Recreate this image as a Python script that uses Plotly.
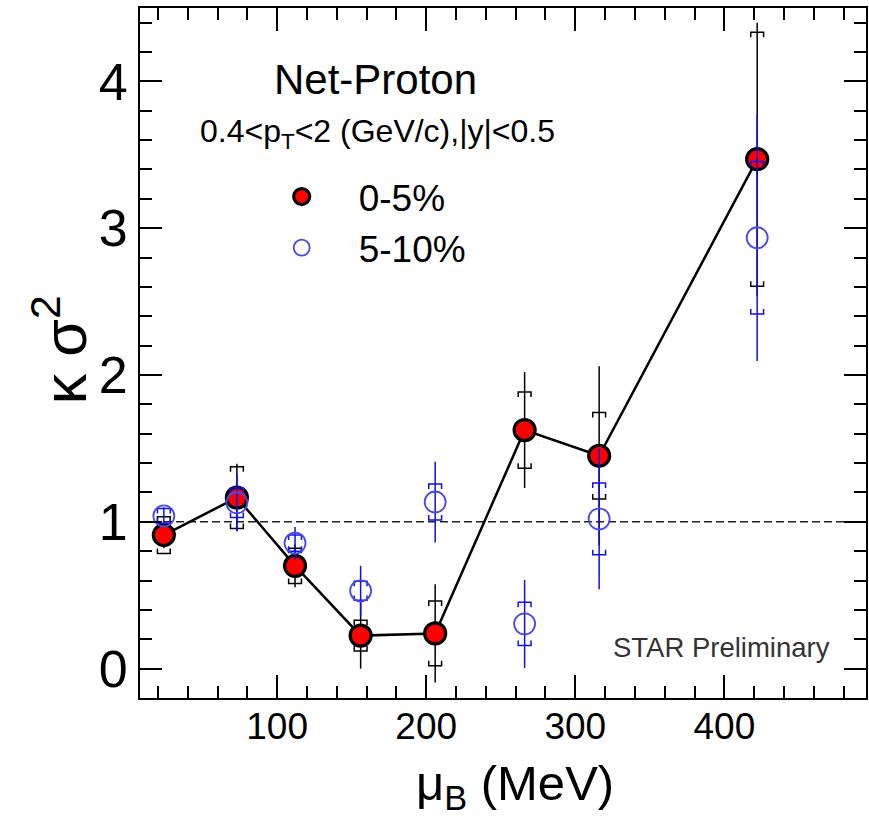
import plotly.graph_objects as go

# ---- data ----
mu_b = [24, 73, 112, 156, 206, 266, 316, 422]          # MeV

k_0_5 = [0.91, 1.165, 0.70, 0.225, 0.24, 1.625, 1.45, 3.47]
stat_0_5 = [0.09, 0.23, 0.145, 0.225, 0.335, 0.395, 0.61, 0.93]
sys_0_5 = [0.125, 0.21, 0.12, 0.105, 0.22, 0.26, 0.295, 0.865]

k_5_10 = [1.04, 1.13, 0.855, 0.53, 1.135, 0.305, 1.02, 2.935]
stat_5_10 = [0.06, 0.195, 0.11, 0.17, 0.275, 0.30, 0.48, 0.84]
sys_5_10 = [0.05, 0.10, 0.055, 0.065, 0.123, 0.148, 0.245, 0.52]

x_tick_vals = [100, 200, 300, 400]
y_tick_vals = [0, 1, 2, 3, 4]
poisson_baseline = 1

FONT = "Liberation Sans, Arial, sans-serif"
BLUE_LINE = "#1010e8"
BLUE_MARK = "#4a4ae6"

# systematic-error brackets (ROOT "[]" style), built from the data
BR_HALF_W = 4.3     # MeV
BR_HOOK = 0.034     # kappa sigma^2 units


def brackets(xs, ys, ss):
    bx, by = [], []
    for x, y, s in zip(xs, ys, ss):
        top, bot = y + s, y - s
        bx += [x - BR_HALF_W, x - BR_HALF_W, x + BR_HALF_W, x + BR_HALF_W, None]
        by += [top - BR_HOOK, top, top, top - BR_HOOK, None]
        bx += [x - BR_HALF_W, x - BR_HALF_W, x + BR_HALF_W, x + BR_HALF_W, None]
        by += [bot + BR_HOOK, bot, bot, bot + BR_HOOK, None]
    return bx, by


fig = go.Figure()

# connecting line for 0-5%
fig.add_trace(go.Scatter(x=mu_b, y=k_0_5, mode="lines",
                         line=dict(color="black", width=2.5),
                         showlegend=False, hoverinfo="skip"))

# 0-5% systematic brackets
bx, by = brackets(mu_b, k_0_5, sys_0_5)
fig.add_trace(go.Scatter(x=bx, y=by, mode="lines",
                         line=dict(color="black", width=1.5),
                         showlegend=False, hoverinfo="skip"))

# 0-5% points with statistical errors
fig.add_trace(go.Scatter(
    x=mu_b, y=k_0_5, mode="markers", name="0-5%", legendgroup="a",
    marker=dict(symbol="circle", size=21, color="#ff0000",
                line=dict(color="black", width=3.2)),
    error_y=dict(type="data", array=stat_0_5, color="black",
                 thickness=1.5, width=0)))

# 5-10% systematic brackets
bx, by = brackets(mu_b, k_5_10, sys_5_10)
fig.add_trace(go.Scatter(x=bx, y=by, mode="lines",
                         line=dict(color=BLUE_LINE, width=1.5),
                         showlegend=False, hoverinfo="skip"))

# 5-10% points with statistical errors
fig.add_trace(go.Scatter(
    x=mu_b, y=k_5_10, mode="markers", name="5-10%", legendgroup="b",
    marker=dict(symbol="circle-open", size=21, color=BLUE_MARK,
                line=dict(width=1.8)),
    error_y=dict(type="data", array=stat_5_10, color=BLUE_LINE,
                 thickness=1.5, width=0)))

# dashed reference line at 1
fig.add_shape(type="line", xref="paper", x0=0, x1=1, yref="y",
              y0=poisson_baseline, y1=poisson_baseline,
              line=dict(color="#222222", width=1.5, dash="8px,4px"),
              layer="below")

axis_common = dict(showgrid=False, zeroline=False, showline=True,
                   linecolor="black", linewidth=2, mirror="allticks",
                   ticks="inside", tickwidth=2, tickcolor="black")

fig.update_xaxes(range=[8, 495], tickvals=x_tick_vals, ticklen=23,
                 tickfont=dict(family=FONT, size=37, color="black"),
                 ticklabelstandoff=-5,
                 minor=dict(dtick=20, tick0=0, ticks="inside", ticklen=12,
                            tickwidth=2, tickcolor="black"),
                 **axis_common)
fig.update_yaxes(range=[-0.2, 4.5], tickvals=y_tick_vals, ticklen=22,
                 tickfont=dict(family=FONT, size=52, color="black"),
                 ticklabelstandoff=0,
                 minor=dict(dtick=0.2, tick0=0, ticks="inside", ticklen=12,
                            tickwidth=2, tickcolor="black"),
                 **axis_common)

W, H = 869, 823
L, R, T, B = 140, 1, 8, 125
PW, PH = W - L - R, H - T - B


def px(xp):
    return (xp - L) / PW


def py(yp):
    return (H - B - yp) / PH


annotations = [
    dict(text="Net-Proton", x=px(376), y=py(80), font=dict(size=42)),
    dict(text="0.4&lt;p<sub>T</sub>&lt;2 (GeV/c),|y|&lt;0.5", x=px(378), y=py(134),
         font=dict(size=32)),
    dict(text="STAR Preliminary", x=px(723), y=py(647),
         font=dict(size=27.5, color="#333333")),
    dict(text="μ<sub>B</sub> (MeV)", x=px(516), y=py(786), font=dict(size=49)),
    dict(text="κ σ<sup>2</sup>", x=px(60), y=py(350), textangle=-90,
         font=dict(size=61)),
]
for a in annotations:
    a.setdefault("xref", "paper")
    a.setdefault("yref", "paper")
    a.setdefault("showarrow", False)
    a.setdefault("xanchor", "center")
    a.setdefault("yanchor", "middle")
    a["font"] = dict(family=FONT, color=a["font"].get("color", "black"),
                     size=a["font"]["size"])
fig.update_layout(annotations=annotations)

fig.update_layout(
    width=W, height=H,
    margin=dict(l=L, r=R, t=T, b=B, pad=0),
    paper_bgcolor="white", plot_bgcolor="white",
    showlegend=True,
    legend=dict(x=px(245), y=py(166), xanchor="left", yanchor="top",
                bgcolor="rgba(0,0,0,0)", borderwidth=0,
                font=dict(family=FONT, size=37, color="black"),
                itemwidth=104, tracegroupgap=21, traceorder="normal"),
    font=dict(family=FONT),
)

fig.write_html("out.html")
